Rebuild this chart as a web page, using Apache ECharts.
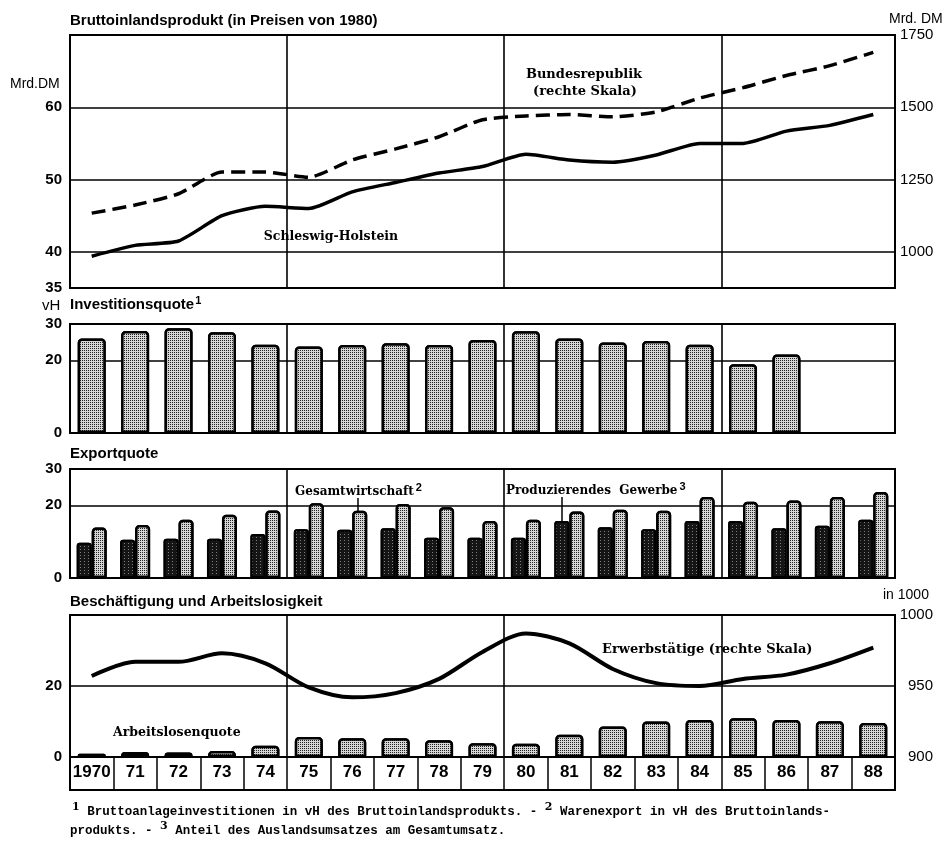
<!DOCTYPE html>
<html><head><meta charset="utf-8">
<script src="https://cdn.jsdelivr.net/npm/echarts@6/dist/echarts.min.js"></script>
<style>html,body{margin:0;padding:0;background:#fff}#c{width:951px;height:841px}</style>
</head><body><div id="c"></div>
<script>
// ---- data ----
const years = ['1970','71','72','73','74','75','76','77','78','79','80','81','82','83','84','85','86','87','88'];
// Bruttoinlandsprodukt, Schleswig-Holstein (Mrd. DM, left scale)
const bipSH = [39.4,40.9,41.5,45.0,46.3,46.0,48.3,49.6,50.9,51.8,53.5,52.7,52.4,53.4,55.0,55.0,56.7,57.5,59.0];
// Bruttoinlandsprodukt, Bundesrepublik (Mrd. DM, right scale)
const bipBR = [1134,1162,1201,1276,1276,1258,1318,1356,1398,1457,1470,1475,1467,1484,1532,1568,1610,1644,1690];
// Investitionsquote (vH)
const investQuote = [26.0,28.1,28.8,27.7,24.3,23.8,24.2,24.7,24.2,25.6,28.0,26.0,24.9,25.3,24.3,18.9,21.6,null,null];
// Exportquote (vH)
const exportDark = [9.7,10.5,10.8,10.8,12.1,13.4,13.3,13.7,11.1,11.1,11.1,15.7,14.0,13.4,15.7,15.7,13.7,14.4,16.0];
const exportLight = [13.9,14.6,16.0,17.4,18.6,20.6,18.5,20.4,19.5,15.7,16.0,18.3,18.8,18.5,22.3,21.0,21.3,22.3,23.7];
// Arbeitslosenquote (vH, left scale)
const arbeitslosenQuote = [0.9,1.4,1.3,1.7,3.2,5.6,5.3,5.3,4.7,3.9,3.7,6.3,8.6,10.0,10.4,10.9,10.4,10.1,9.6];
// Erwerbstätige (in 1000, right scale)
const erwerbstaetige = [957,967,967,973,966,949,942,945,955,974,987,980,962,952,950,955,958,966,977];

// tick labels shown
const bipLeftTicks = [35,40,50,60];
const bipRightTicks = [1000,1250,1500,1750];
const quoteTicks = [0,20,30];
const beschLeftTicks = [0,20];
const beschRightTicks = [900,950,1000];

// ---- styles ----
const BLK = '#000';
const NONE = 'rgba(0,0,0,0)';
const sans = "'Liberation Sans', Arial, sans-serif";
const serif = "'DejaVu Serif', serif";
const mono = "'Liberation Mono', 'DejaVu Sans Mono', monospace";
const L = 70, W = 825;

const lightBar = {
  color: '#aaaaaa', borderColor: BLK, borderWidth: 2.5, borderRadius: [3,3,0,0],
  decal: {symbol: 'rect', symbolSize: 1, color: '#222', backgroundColor: '#d6d6d6',
          dashArrayX: [1,1], dashArrayY: [1,1], rotation: 0}
};
const darkBar = {
  color: '#151515', borderColor: BLK, borderWidth: 2, borderRadius: [2,2,0,0],
  decal: {symbol: 'rect', symbolSize: 1, color: 'rgba(255,255,255,0.45)', backgroundColor: '#151515',
          dashArrayX: [1,3], dashArrayY: [1,2], rotation: 0}
};

function xAx(i) {
  return {
    type: 'category', data: years, gridIndex: i, boundaryGap: true,
    axisLabel: {show: false}, axisTick: {show: false},
    axisLine: {show: true, lineStyle: {color: BLK, width: 2}},
    splitLine: {show: true, interval: (idx) => idx > 0 && idx % 5 === 0, lineStyle: {color: BLK, width: 1.6}}
  };
}
function lab(list, extra) {
  return Object.assign({
    show: true, color: BLK, fontFamily: sans, fontWeight: 'bold', fontSize: 15, margin: 8,
    formatter: (v) => list.indexOf(v) >= 0 ? String(v) : ''
  }, extra || {});
}

const option = {
  animation: false,
  backgroundColor: '#fff',
  grid: [
    {left: L, width: W, top: 35, height: 253, show: true, borderColor: BLK, borderWidth: 2},
    {left: L, width: W, top: 324, height: 109, show: true, borderColor: BLK, borderWidth: 2},
    {left: L, width: W, top: 469, height: 109, show: true, borderColor: BLK, borderWidth: 2},
    {left: L, width: W, top: 615, height: 142, show: true, borderColor: BLK, borderWidth: 2},
    {left: L, width: W, top: 757, height: 33, show: true, borderColor: BLK, borderWidth: 2}
  ],
  xAxis: [
    xAx(0), xAx(1), xAx(2), xAx(3),
    {
      type: 'category', data: years, gridIndex: 4, boundaryGap: true,
      axisTick: {show: false},
      axisLine: {show: true, lineStyle: {color: BLK, width: 2}},
      splitLine: {show: true, interval: 0, lineStyle: {color: BLK, width: 1.5}},
      axisLabel: {show: true, interval: 0, margin: -26, color: BLK,
        fontFamily: sans, fontWeight: 'bold', fontSize: 17}
    }
  ],
  yAxis: [
    {type: 'value', gridIndex: 0, position: 'left', min: 35, max: 70, interval: 5,
     axisLine: {show: true, lineStyle: {color: BLK, width: 2}}, axisTick: {show: false},
     axisLabel: lab(bipLeftTicks),
     splitLine: {show: true, lineStyle: {color: [NONE, BLK], width: 1.6}}},
    {type: 'value', gridIndex: 0, position: 'right', min: 875, max: 1750, interval: 125,
     axisLine: {show: true, lineStyle: {color: BLK, width: 2}}, axisTick: {show: false},
     axisLabel: lab(bipRightTicks, {fontWeight: 'normal', fontSize: 15, margin: 5}),
     splitLine: {show: false}},
    {type: 'value', gridIndex: 1, min: 0, max: 30, interval: 10,
     axisLine: {show: true, lineStyle: {color: BLK, width: 2}}, axisTick: {show: false},
     axisLabel: lab(quoteTicks),
     splitLine: {show: true, lineStyle: {color: [NONE, NONE, BLK, NONE], width: 1.6}}},
    {type: 'value', gridIndex: 2, min: 0, max: 30, interval: 10,
     axisLine: {show: true, lineStyle: {color: BLK, width: 2}}, axisTick: {show: false},
     axisLabel: lab(quoteTicks),
     splitLine: {show: true, lineStyle: {color: [NONE, NONE, BLK, NONE], width: 1.6}}},
    {type: 'value', gridIndex: 3, position: 'left', min: 0, max: 40, interval: 10,
     axisLine: {show: true, lineStyle: {color: BLK, width: 2}}, axisTick: {show: false},
     axisLabel: lab(beschLeftTicks),
     splitLine: {show: true, lineStyle: {color: [NONE, NONE, BLK, NONE], width: 1.6}}},
    {type: 'value', gridIndex: 3, position: 'right', min: 900, max: 1000, interval: 50,
     axisLine: {show: true, lineStyle: {color: BLK, width: 2}}, axisTick: {show: false},
     axisLabel: lab(beschRightTicks, {fontWeight: 'normal', fontSize: 15, margin: 38, align: 'right'}),
     splitLine: {show: false}},
    {type: 'value', gridIndex: 4, show: false, min: 0, max: 1}
  ],
  series: [
    {name: 'Schleswig-Holstein', type: 'line', xAxisIndex: 0, yAxisIndex: 0, data: bipSH,
     symbol: 'none', smooth: 0.2, lineStyle: {color: BLK, width: 3.5}},
    {name: 'Bundesrepublik', type: 'line', xAxisIndex: 0, yAxisIndex: 1, data: bipBR,
     symbol: 'none', smooth: 0.2, lineStyle: {color: BLK, width: 3.5, type: [14, 7]}},
    {name: 'Investitionsquote', type: 'bar', xAxisIndex: 1, yAxisIndex: 2, data: investQuote,
     barWidth: 28, itemStyle: lightBar},
    {name: 'Produzierendes Gewerbe', type: 'bar', xAxisIndex: 2, yAxisIndex: 3, data: exportDark,
     barWidth: 15, barGap: '0%', itemStyle: darkBar},
    {name: 'Gesamtwirtschaft', type: 'bar', xAxisIndex: 2, yAxisIndex: 3, data: exportLight,
     barWidth: 15, barGap: '0%', itemStyle: lightBar},
    {name: 'Arbeitslosenquote', type: 'bar', xAxisIndex: 3, yAxisIndex: 4, data: arbeitslosenQuote,
     barWidth: 28, itemStyle: lightBar},
    {name: 'Erwerbstätige', type: 'line', xAxisIndex: 3, yAxisIndex: 5, data: erwerbstaetige,
     symbol: 'none', smooth: 0.3, lineStyle: {color: BLK, width: 4}, z: 5}
  ],
  graphic: [
    // panel titles
    {type: 'text', left: 70, top: 13, style: {text: 'Bruttoinlandsprodukt (in Preisen von 1980)', font: "bold 15px " + sans, fill: BLK}},
    {type: 'text', left: 70, top: 295, style: {text: 'Investitionsquote{s|1}', font: "bold 15px " + sans, fill: BLK,
      rich: {s: {font: "bold 11px " + sans, padding: [0,0,9,1]}}}},
    {type: 'text', left: 70, top: 446, style: {text: 'Exportquote', font: "bold 15px " + sans, fill: BLK}},
    {type: 'text', left: 70, top: 594, style: {text: 'Beschäftigung und Arbeitslosigkeit', font: "bold 15px " + sans, fill: BLK}},
    // units
    {type: 'text', left: 10, top: 77, style: {text: 'Mrd.DM', font: "14px " + sans, fill: BLK}},
    {type: 'text', left: 889, top: 12, style: {text: 'Mrd. DM', font: "14px " + sans, fill: BLK}},
    {type: 'text', left: 42, top: 298, style: {text: 'vH', font: "15px " + sans, fill: BLK}},
    {type: 'text', left: 883, top: 588, style: {text: 'in 1000', font: "14px " + sans, fill: BLK}},
    // annotations
    {type: 'text', x: 584, y: 75, style: {text: 'Bundesrepublik', font: "bold 13px " + serif, fill: BLK, align: 'center', verticalAlign: 'middle'}},
    {type: 'text', x: 585, y: 92, style: {text: '(rechte Skala)', font: "bold 13px " + serif, fill: BLK, align: 'center', verticalAlign: 'middle'}},
    {type: 'text', x: 331, y: 237, style: {text: 'Schleswig-Holstein', font: "bold 12.5px " + serif, fill: BLK, align: 'center', verticalAlign: 'middle'}},
    {type: 'text', x: 295, y: 492, style: {text: 'Gesamtwirtschaft{s|2}', font: "bold 12px " + serif, fill: BLK, verticalAlign: 'middle',
      rich: {s: {font: "bold 11px " + sans, padding: [0,0,9,2]}}}},
    {type: 'text', x: 506, y: 491, style: {text: 'Produzierendes  Gewerbe{s|3}', font: "bold 12px " + serif, fill: BLK, verticalAlign: 'middle',
      rich: {s: {font: "bold 11px " + sans, padding: [0,0,9,2]}}}},
    {type: 'line', shape: {x1: 358, y1: 498, x2: 358, y2: 511}, style: {stroke: BLK, lineWidth: 1.5}},
    {type: 'line', shape: {x1: 562, y1: 497, x2: 562, y2: 521}, style: {stroke: BLK, lineWidth: 1.5}},
    {type: 'text', x: 602, y: 650, style: {text: 'Erwerbstätige (rechte Skala)', font: "bold 13px " + serif, fill: BLK, verticalAlign: 'middle'}},
    {type: 'text', x: 113, y: 733, style: {text: 'Arbeitslosenquote', font: "bold 12.5px " + serif, fill: BLK, verticalAlign: 'middle'}},
    // footnotes
    {type: 'text', x: 72, y: 812, style: {
      text: '{s|1} Bruttoanlageinvestitionen in vH des Bruttoinlandsprodukts. - {s|2} Warenexport in vH des Bruttoinlands-',
      font: "bold 12.5px " + mono, fill: BLK, verticalAlign: 'middle',
      rich: {s: {font: "bold 11px " + serif, padding: [0,0,10,0]}}}},
    {type: 'text', x: 70, y: 831, style: {
      text: 'produkts. - {s|3} Anteil des Auslandsumsatzes am Gesamtumsatz.',
      font: "bold 12.5px " + mono, fill: BLK, verticalAlign: 'middle',
      rich: {s: {font: "bold 11px " + serif, padding: [0,0,10,0]}}}}
  ]
};
const chart = echarts.init(document.getElementById('c'), null, {renderer: 'canvas'});
chart.setOption(option);
</script>
</body></html>
